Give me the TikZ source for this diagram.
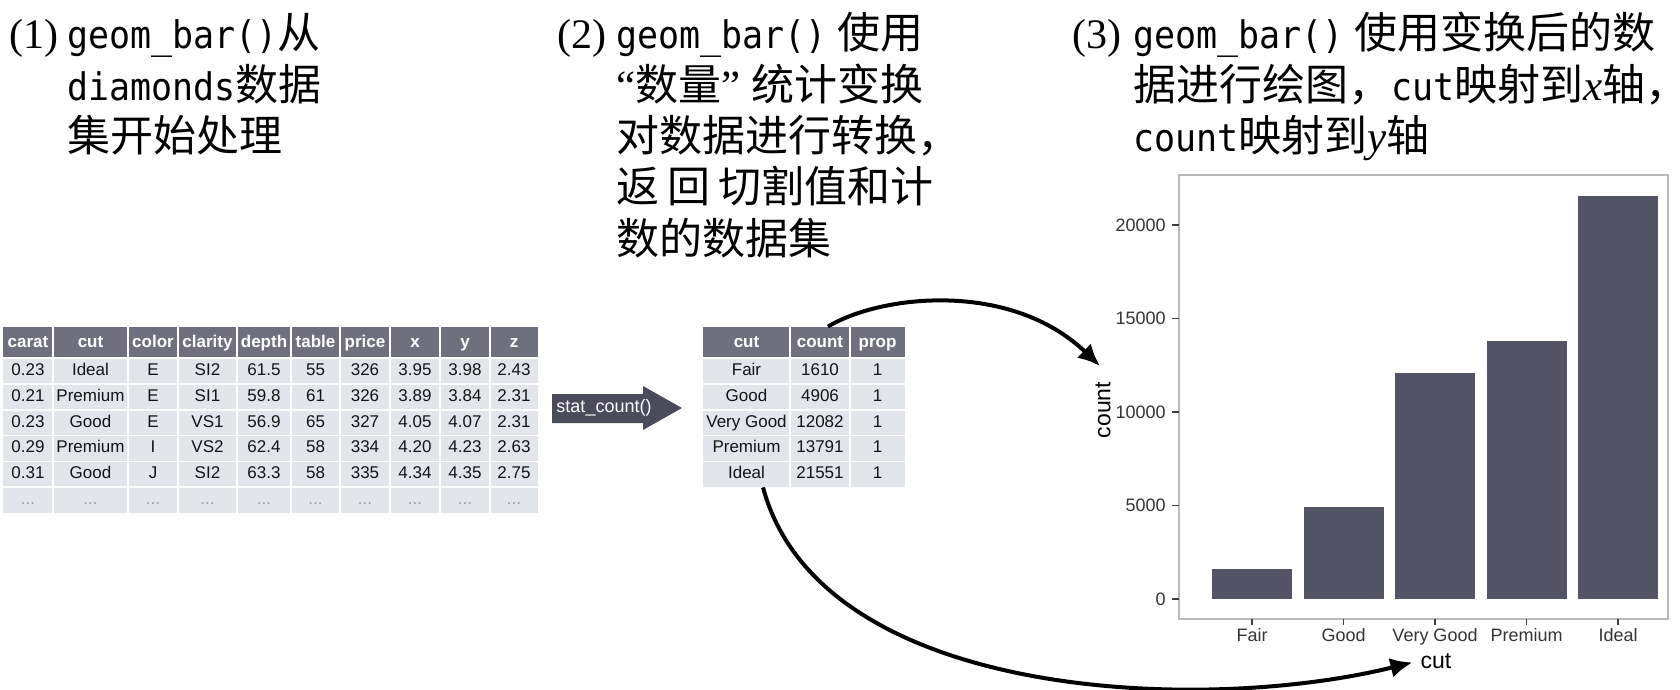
\documentclass[tikz,border=0pt]{standalone}
\usepackage{fontspec}
\setmainfont{Liberation Serif}
\newfontfamily\cjk{Noto Sans CJK SC}
\newfontfamily\code[FakeStretch=0.92]{DejaVu Sans Mono}
\newfontfamily\plotfont{Liberation Sans}
\usetikzlibrary{arrows.meta,fit}

\definecolor{headfill}{RGB}{110,112,128}
\definecolor{bodyfill}{RGB}{227,229,236}
\definecolor{barfill}{RGB}{83,85,102}
\definecolor{statfill}{RGB}{74,76,92}

\newcommand{\codetxt}[1]{{\code\fontsize{19}{25}\selectfont #1}}
\newcommand{\zhtxt}[1]{{\cjk #1}}

\begin{document}
\begin{tikzpicture}[x=0.5pt, y=-0.5pt, >=Latex,
  headnum/.style={anchor=base west, inner sep=0pt, font=\fontsize{21}{25}\selectfont},
  headline/.style={anchor=base west, inner sep=0pt, font=\fontsize{21.5}{25}\selectfont},
  cell/.style={inner sep=0pt, text height=6.3pt, text depth=1.8pt, text=black!92,
    font=\plotfont\fontsize{8.5}{10}\selectfont},
  headcell/.style={cell, text=white, font=\plotfont\bfseries\fontsize{8.5}{10}\selectfont},
  gridline/.style={white, line width=0.8pt},
  ticklab/.style={inner sep=1pt, text=black!80, font=\plotfont\fontsize{9}{10}\selectfont},
  axtitle/.style={inner sep=1pt, font=\plotfont\fontsize{11.5}{12}\selectfont},
  flow/.style={-{Latex[length=11pt,width=10pt]}, line width=2pt},
]
\useasboundingbox (0,0) rectangle (1680,690);

% headings
\node[headnum] (n1) at (9,49) {(1)};
\foreach \t [count=\i] in {{\codetxt{geom\_bar()}\zhtxt{从}},
    {\codetxt{diamonds}\zhtxt{数据}}, {\zhtxt{集开始处理}}}
  \node[headline] (h1-\i) at (67,{49+51.3*(\i-1)}) {\t};

\node[headnum] (n2) at (557,49) {(2)};
\foreach \t [count=\i] in {{\codetxt{geom\_bar()} \zhtxt{使用}},
    {“\zhtxt{数量}” \zhtxt{统计变换}}, {\zhtxt{对数据进行转换，}},
    {\zhtxt{返\kern4pt 回\kern4pt 切割值和计}}, {\zhtxt{数的数据集}}}
  \node[headline] (h2-\i) at (616,{49+51.3*(\i-1)}) {\t};

\node[headnum] (n3) at (1072,49) {(3)};
\foreach \t [count=\i] in {{\codetxt{geom\_bar()} \zhtxt{使用变换后的数}},
    {\zhtxt{据进行绘图，}\codetxt{cut}\zhtxt{映射到}\textit{x}\zhtxt{轴}\makebox[0.45em][l]{\zhtxt{，}}},
    {\codetxt{count}\zhtxt{映射到}\textit{y}\zhtxt{轴}}}
  \node[headline] (h3-\i) at (1133,{49+51.3*(\i-1)}) {\t};

% diamonds table
\node[fit={(3,327) (538,513)}, inner sep=0pt, fill=bodyfill] (rawtab) {};
\fill[headfill] (3,327) rectangle (538,358);
\foreach \x in {53,128,178,237,291,340,390,440,490}
  \draw[gridline] (\x,327) -- (\x,513);
\foreach \y in {358,383.8,409.7,435.5,461.3,487.2}
  \draw[gridline] (3,\y) -- (538,\y);
\foreach \x/\h/\va/\vb/\vc/\vd/\ve in {28/carat/0.23/0.21/0.23/0.29/0.31,
    90.5/cut/Ideal/Premium/Good/Premium/Good, 153/color/E/E/E/I/J,
    207.5/clarity/SI2/SI1/VS1/VS2/SI2, 264/depth/61.5/59.8/56.9/62.4/63.3,
    315.5/table/55/61/65/58/58, 365/price/326/326/327/334/335,
    415/x/3.95/3.89/4.05/4.20/4.34, 465/y/3.98/3.84/4.07/4.23/4.35,
    514/z/2.43/2.31/2.31/2.63/2.75}{
  \node[headcell] (raw-\h) at (\x,342.5) {\h};
  \node[cell] (raw-\h-1) at (\x,370.9) {\va};
  \node[cell] (raw-\h-2) at (\x,396.7) {\vb};
  \node[cell] (raw-\h-3) at (\x,422.6) {\vc};
  \node[cell] (raw-\h-4) at (\x,448.4) {\vd};
  \node[cell] (raw-\h-5) at (\x,474.2) {\ve};
  \node[cell, text=gray!75] (raw-\h-6) at (\x,500) {...};
}

% stat arrow
\fill[statfill] (552,394) -- (643,394) -- (643,386) -- (682,408) -- (643,430)
  -- (643,423) -- (552,423) -- cycle;
\node[cell, text=white, font=\plotfont\fontsize{9}{10}\selectfont] (stat) at (604,408) {stat\_count()};

% counted table
\node[fit={(703,327) (905,487)}, inner sep=0pt, fill=bodyfill] (sumtab) {};
\fill[headfill] (703,327) rectangle (905,358);
\foreach \x in {790,850}
  \draw[gridline] (\x,327) -- (\x,487);
\foreach \y in {358,383.8,409.7,435.5,461.3}
  \draw[gridline] (703,\y) -- (905,\y);
\foreach \x/\h/\va/\vb/\vc/\vd/\ve in {746.5/cut/Fair/Good/Very Good/Premium/Ideal,
    820/count/1610/4906/12082/13791/21551, 877.5/prop/1/1/1/1/1}{
  \node[headcell] (sum-\h) at (\x,342.5) {\h};
  \node[cell] (sum-\h-1) at (\x,370.9) {\va};
  \node[cell] (sum-\h-2) at (\x,396.7) {\vb};
  \node[cell] (sum-\h-3) at (\x,422.6) {\vc};
  \node[cell] (sum-\h-4) at (\x,448.4) {\vd};
  \node[cell] (sum-\h-5) at (\x,474.2) {\ve};
}

% bar chart (heights in thousands)
\node[fit={(1179,175) (1668,619)}, inner sep=0pt, draw=gray!55, line width=0.6pt] (panel) {};
\foreach \k/\lab in {0/0, 5/5000, 10/10000, 15/15000, 20/20000}{
  \draw[black!75, line width=0.6pt] (1172,{599-\k*18.7}) -- (1179,{599-\k*18.7});
  \node[ticklab, anchor=east] (yt\k) at (1168,{599-\k*18.7}) {\lab};
}
\foreach \x/\k/\n [count=\i] in {1252/1.610/Fair, 1343.5/4.906/Good, 1435/12.082/Very Good,
    1526.5/13.791/Premium, 1618/21.551/Ideal}{
  \fill[barfill] (\x-40,599) rectangle (\x+40,{599-\k*18.7});
  \draw[black!75, line width=0.6pt] (\x,619) -- (\x,625);
  \node[ticklab, anchor=north] (xt\i) at (\x,626) {\n};
}
\node[axtitle, rotate=90] (ylab) at (1103,410) {count};
\node[axtitle] (xlab) at (1436,661) {cut};

% connectors
\coordinate (ytip) at (1100,366);
\draw[flow] ([xshift=12pt]sumtab.north) .. controls (880,295) and (1010,280) .. (ytip);
\draw[flow, shorten >=3pt] ([xshift=-20.5pt]sumtab.south) .. controls (820,700) and (1200,715) .. (xlab.west);
\end{tikzpicture}
\end{document}
